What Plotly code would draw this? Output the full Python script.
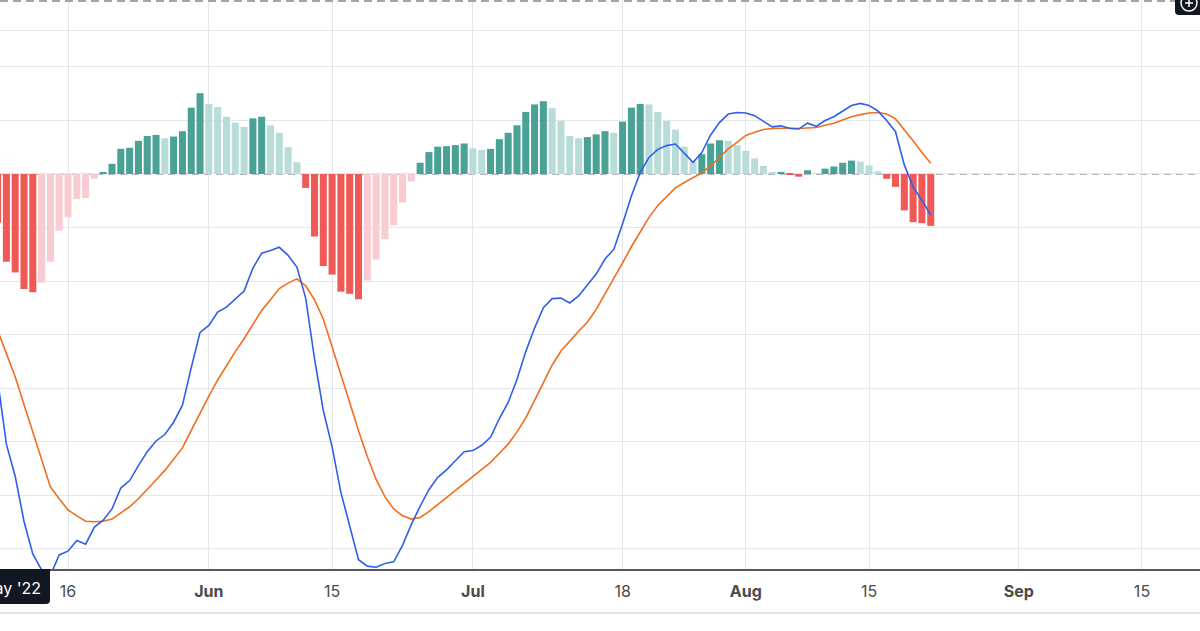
import pandas as pd
import plotly.graph_objects as go

# ---------------- data ----------------
dates = pd.date_range("2022-05-08", "2022-08-22", freq="D")

hist = [
    -0.91, -1.64, -1.84, -2.15, -2.21, -2.03, -1.64, -1.06, -0.81, -0.47,
    -0.45, -0.09, 0.025, 0.19, 0.47, 0.49, 0.62, 0.71, 0.73, 0.67,
    0.70, 0.80, 1.24, 1.51, 1.31, 1.25, 1.07, 0.96, 0.88, 1.04,
    1.07, 0.91, 0.77, 0.50, 0.22, -0.26, -1.17, -1.72, -1.88, -2.20,
    -2.24, -2.34, -1.99, -1.60, -1.22, -0.96, -0.53, -0.14, 0.21, 0.41,
    0.51, 0.52, 0.54, 0.57, 0.48, 0.45, 0.47, 0.65, 0.77, 0.91,
    1.16, 1.30, 1.36, 1.23, 0.99, 0.71, 0.67, 0.69, 0.74, 0.80,
    0.77, 0.98, 1.24, 1.31, 1.30, 1.16, 0.99, 0.83, 0.51, 0.24,
    0.37, 0.57, 0.63, 0.62, 0.54, 0.43, 0.29, 0.15, 0.02, 0.04,
    -0.01, -0.05, 0.07, 0.01, 0.10, 0.14, 0.21, 0.25, 0.23, 0.16,
    0.05, -0.09, -0.24, -0.68, -0.90, -0.92, -0.97,
]

macd = [
    -3.84, -5.05, -5.65, -6.49, -7.10, -7.40, -7.50, -7.12, -7.05, -6.85,
    -6.92, -6.60, -6.47, -6.26, -5.87, -5.73, -5.45, -5.19, -4.99, -4.87,
    -4.64, -4.32, -3.62, -2.96, -2.83, -2.58, -2.49, -2.34, -2.19, -1.76,
    -1.48, -1.43, -1.37, -1.52, -1.74, -2.32, -3.45, -4.42, -5.10, -5.95,
    -6.58, -7.21, -7.33, -7.35, -7.28, -7.25, -6.94, -6.55, -6.21, -5.90,
    -5.67, -5.53, -5.36, -5.19, -5.17, -5.07, -4.92, -4.57, -4.27, -3.84,
    -3.32, -2.88, -2.50, -2.33, -2.32, -2.41, -2.28, -2.08, -1.87, -1.59,
    -1.41, -0.93, -0.41, 0.03, 0.31, 0.46, 0.53, 0.56, 0.38, 0.22,
    0.40, 0.73, 0.96, 1.12, 1.15, 1.14, 1.09, 0.99, 0.88, 0.90,
    0.85, 0.84, 0.95, 0.89, 1.00, 1.07, 1.17, 1.28, 1.32, 1.28,
    1.18, 1.00, 0.79, 0.17, -0.24, -0.49, -0.77,
]

signal = [
    -2.92, -3.35, -3.79, -4.31, -4.82, -5.34, -5.85, -6.07, -6.28, -6.39,
    -6.49, -6.50, -6.49, -6.45, -6.34, -6.22, -6.07, -5.90, -5.72, -5.54,
    -5.34, -5.12, -4.79, -4.46, -4.15, -3.85, -3.58, -3.32, -3.08, -2.81,
    -2.55, -2.35, -2.14, -2.04, -1.96, -2.09, -2.35, -2.71, -3.22, -3.74,
    -4.27, -4.80, -5.28, -5.71, -6.03, -6.26, -6.39, -6.45, -6.42, -6.31,
    -6.18, -6.05, -5.92, -5.78, -5.65, -5.52, -5.39, -5.22, -5.05, -4.82,
    -4.56, -4.23, -3.90, -3.57, -3.31, -3.12, -2.94, -2.77, -2.53, -2.24,
    -1.96, -1.66, -1.36, -1.08, -0.81, -0.59, -0.42, -0.26, -0.16, -0.07,
    0.02, 0.15, 0.31, 0.47, 0.59, 0.72, 0.78, 0.83, 0.85, 0.86,
    0.86, 0.85, 0.86, 0.87, 0.91, 0.95, 1.01, 1.07, 1.11, 1.14,
    1.15, 1.12, 1.03, 0.83, 0.62, 0.40, 0.20,
]

tick_dates = ["2022-05-16", "2022-06-01", "2022-06-15", "2022-07-01", "2022-07-18",
              "2022-08-01", "2022-08-15", "2022-09-01", "2022-09-15"]
tick_labels = ["16", "<b>Jun</b>", "15", "<b>Jul</b>", "18",
               "<b>Aug</b>", "15", "<b>Sep</b>", "15"]
grid_levels = [-7, -6, -5, -4, -3, -2, -1, 0, 1, 2, 2.673]

# ---------------- styling ----------------
UP_STRONG = "#4aa296"
UP_WEAK = "#b8ddd8"
DOWN_WEAK = "#f9ccd1"
DOWN_STRONG = "#ef5a56"
GRID = "#e2e7ee"

colors = []
for i, v in enumerate(hist):
    rising = i > 0 and v >= hist[i - 1]
    if v >= 0:
        colors.append(UP_STRONG if rising else UP_WEAK)
    else:
        colors.append(DOWN_WEAK if rising else DOWN_STRONG)

W, H = 1200, 631
B = 62
PH = H - B  # plot height in px


def py(p):  # pixel row -> paper y
    return (PH - p) / PH


def px(p):  # pixel col -> paper x
    return p / W


fig = go.Figure()
fig.add_trace(go.Bar(x=dates, y=hist, marker=dict(color=colors, line=dict(width=0)),
                     hoverinfo="skip"))
fig.add_trace(go.Scatter(x=dates, y=signal, mode="lines",
                         line=dict(color="#f26d1d", width=1.6), hoverinfo="skip"))
fig.add_trace(go.Scatter(x=dates, y=macd, mode="lines",
                         line=dict(color="#2f5fe8", width=1.6), hoverinfo="skip"))

shapes = [
    # zero dashed line
    dict(type="line", xref="paper", yref="y", x0=0, x1=1, y0=0, y1=0,
         line=dict(color="#9aa1ab", width=1.5, dash="7px,5px"), layer="below"),
    # top dashed separator
    dict(type="line", xref="paper", yref="paper", x0=0, x1=1, y0=py(1), y1=py(1),
         line=dict(color="#a3a3a3", width=2, dash="8px,5px"), layer="above"),
    # bottom light separator
    dict(type="line", xref="paper", yref="paper", x0=0, x1=1, y0=py(613), y1=py(613),
         line=dict(color="#e0e3e8", width=2), layer="above"),
    # crosshair date box
    dict(type="path", xref="paper", yref="paper",
         path=(f"M {px(-40)} {py(569)} L {px(50)} {py(569)} "
               f"L {px(50)} {py(600)} Q {px(50)} {py(604)} {px(46)} {py(604)} "
               f"L {px(-40)} {py(604)} Z"),
         fillcolor="#131722", line=dict(width=0), layer="above"),
    # top-right button
    dict(type="path", xref="paper", yref="paper",
         path=(f"M {px(1175)} {py(-2)} L {px(1202)} {py(-2)} L {px(1202)} {py(15)} "
               f"L {px(1179)} {py(15)} Q {px(1175)} {py(15)} {px(1175)} {py(11)} Z"),
         fillcolor="#131722", line=dict(width=0), layer="above"),
    dict(type="circle", xref="paper", yref="paper",
         x0=px(1181), x1=px(1197), y0=py(11), y1=py(-5),
         line=dict(color="white", width=1.5), layer="above"),
    dict(type="line", xref="paper", yref="paper",
         x0=px(1189), x1=px(1189), y0=py(7), y1=py(-2),
         line=dict(color="white", width=1.5), layer="above"),
    dict(type="line", xref="paper", yref="paper",
         x0=px(1185), x1=px(1193), y0=py(3), y1=py(3),
         line=dict(color="white", width=1.5), layer="above"),
]

fig.update_layout(
    width=W, height=H,
    margin=dict(l=0, r=0, t=0, b=B),
    paper_bgcolor="white", plot_bgcolor="white",
    showlegend=False, bargap=0.2,
    font=dict(family="Inter, Roboto, sans-serif", size=16, color="#4a4a4a"),
    shapes=shapes,
    annotations=[dict(text="May '22", xref="paper", yref="paper",
                      x=px(43), y=py(588), xanchor="right", yanchor="middle",
                      showarrow=False, font=dict(color="white", size=16,
                                                 family="Inter, Roboto, sans-serif"))],
)
fig.update_xaxes(
    type="date",
    range=["2022-05-08 06:36", "2022-09-21 14:10"],
    tickvals=tick_dates, ticktext=tick_labels,
    showgrid=True, gridcolor=GRID, gridwidth=1,
    showline=True, linecolor="#55585f", linewidth=2,
    ticks="outside", ticklen=7, tickcolor="rgba(0,0,0,0)",
    zeroline=False, fixedrange=True,
)
fig.update_yaxes(
    range=[-7.383, 3.252],
    tickvals=grid_levels, showticklabels=False,
    showgrid=True, gridcolor=GRID, gridwidth=1,
    zeroline=False, showline=False, ticks="", fixedrange=True,
)

fig.write_html("out.html", config={"displayModeBar": False})
